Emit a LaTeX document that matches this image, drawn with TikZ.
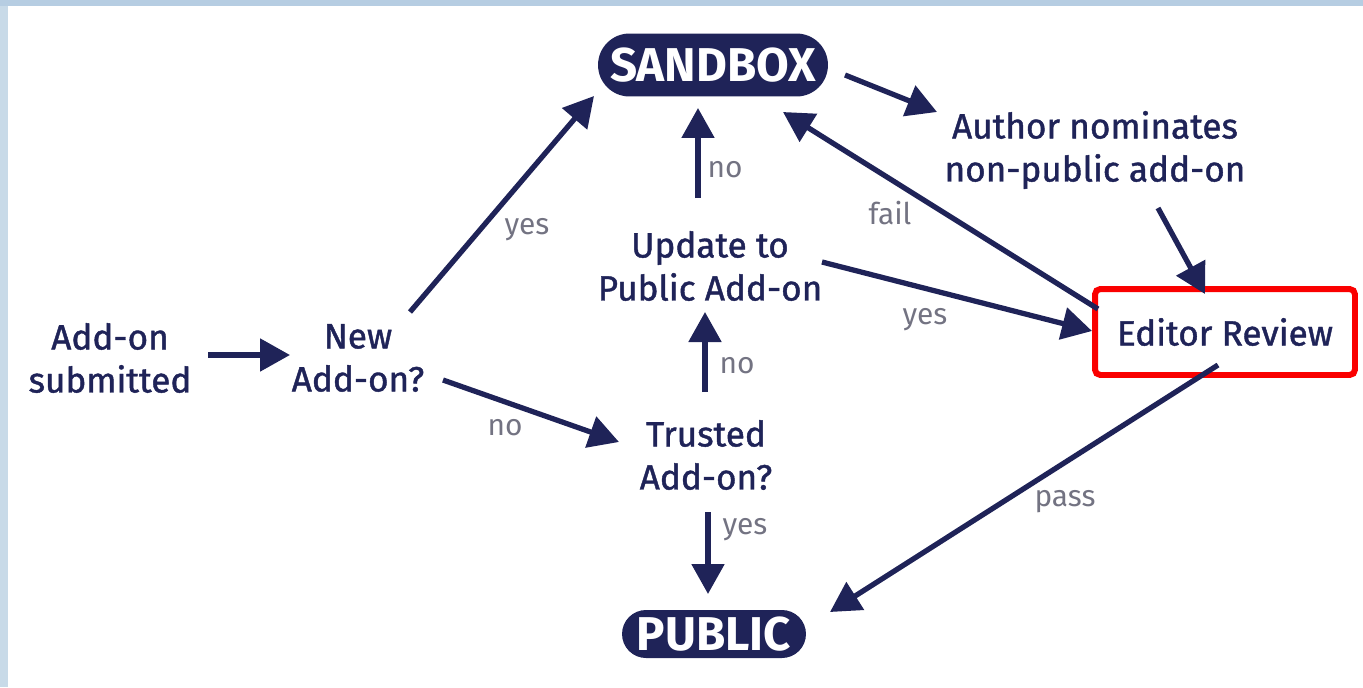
\documentclass[tikz,border=0pt]{standalone}
\usepackage{fontspec}
\setmainfont{Fira Sans}
\newfontfamily\mediumfont{Fira Sans}[FakeBold=1.2]
\usepackage{tikz}
\usetikzlibrary{arrows.meta,calc,shapes.misc}
\definecolor{mynavy}{RGB}{31,35,88}
\definecolor{mygray}{RGB}{115,115,130}
\definecolor{myred}{RGB}{250,0,0}
\definecolor{myframe}{RGB}{200,218,232}
\definecolor{myframetop}{RGB}{182,205,226}

\begin{document}
\begin{tikzpicture}[x=0.02cm, y=-0.02cm,
  txt/.style={text=mynavy, align=center, font=\mediumfont\fontsize{20}{24.5}\selectfont},
  pill/.style={rounded rectangle, fill=mynavy, text=white, inner sep=0pt,
               font=\fontsize{27}{30}\selectfont\bfseries},
  lbl/.style={text=mygray, font=\fontsize{17}{20}\selectfont},
  arr/.style={draw=mynavy, line width=3pt,
              -{Triangle[length=0.6cm,width=0.64cm]}}]
  \useasboundingbox (0,0) rectangle (1363,687);

  % Frame strips
  \fill[myframe] (0,0) rectangle (8,687);
  \fill[myframetop] (0,0) rectangle (1363,6);

  % States
  \node[pill, minimum width=4.6cm, minimum height=1.26cm] (sandbox) at (713,65) {SANDBOX};
  \node[pill, minimum width=3.68cm, minimum height=0.96cm] (public) at (714,634) {PUBLIC};

  % Steps
  \node[txt] (sub) at (110,358) {Add-on\\submitted};
  \node[txt] (new) at (358,358) {New\\Add-on?};
  \node[txt] (update) at (710,266) {Update to\\Public Add-on};
  \node[txt] (trusted) at (706,455) {Trusted\\Add-on?};
  \node[txt] (author) at (1095,150) {Author nominates\\non-public add-on};
  \node[txt, draw=myred, line width=3.4pt, rounded corners=3pt, inner sep=0pt,
        minimum width=5.2cm, minimum height=1.72cm] (editor) at (1225,332) {Editor Review};

  % Connectors
  \draw[arr] ($(sub)+(98,-3)$) -- ($(new)+(-68,-3)$);
  \draw[arr] ($(new)+(52,-46)$) -- ($(sandbox)+(-119,31)$);
  \draw[arr] ($(new)+(85,22)$) -- ($(trusted)+(-87,-13)$);
  \draw[arr] ($(trusted)+(-1,-63)$) -- ($(update)+(-5,46)$);
  \draw[arr] ($(trusted)+(2,57)$) -- ($(public)+(-6,-40)$);
  \draw[arr] ($(update)+(-12,-68)$) -- ($(sandbox)+(-15,43)$);
  \draw[arr] ($(update)+(112,-4)$) -- ($(editor)+(-133,-1)$);
  \draw[arr] ($(editor)+(-127,-23)$) -- ($(sandbox)+(70,47)$);
  \draw[arr] ($(sandbox)+(132,10)$) -- ($(author)+(-158,-38)$);
  \draw[arr] ($(author)+(63,58)$) -- ($(editor)+(-20,-38)$);
  \draw[arr] ($(editor)+(-7,33)$) -- ($(public)+(116,-22)$);

  % Labels
  \foreach \x/\y/\t/\n in {527/230/yes/l1, 505/428/no/l2, 725/170/no/l3,
                           737/366/no/l4, 745/530/yes/l5, 890/213/fail/l6,
                           925/320/yes/l7, 1065/502/pass/l8}{
    \node[lbl] (\n) at (\x,\y) {\t};
  }
\end{tikzpicture}
\end{document}
